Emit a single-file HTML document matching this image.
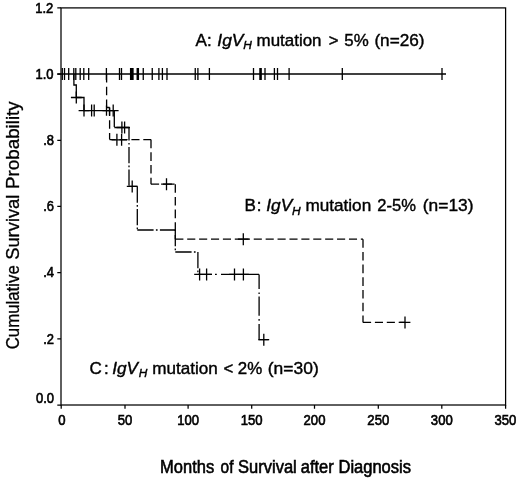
<!DOCTYPE html>
<html><head><meta charset="utf-8">
<title>Survival</title>
<style>
html,body{margin:0;padding:0;background:#fff;}
svg{display:block;}
text{font-family:"Liberation Sans",Arial,Helvetica,sans-serif;fill:#000;stroke:#000;stroke-width:0.4;}
.d text{stroke-width:0.65;}
.t text{stroke-width:0.6;}
.ty text{stroke-width:0.3;}
.ln{stroke:#000;stroke-width:1.3;fill:none;stroke-linecap:butt;}
.ax{stroke:#000;stroke-width:1.25;fill:none;}
</style></head><body>
<svg width="520" height="480" viewBox="0 0 520 480">
<rect width="520" height="480" fill="#fff"/>
<rect class="ax" x="61.0" y="7.9" width="444.6" height="397.1"/>
<path class="ax" d="M57.3 7.90H61.0M57.3 74.08H61.0M57.3 140.27H61.0M57.3 206.45H61.0M57.3 272.63H61.0M57.3 338.82H61.0M57.3 405.00H61.0M61.2 405.0V408.7M125.0 405.0V408.7M188.1 405.0V408.7M251.7 405.0V408.7M314.5 405.0V408.7M378.3 405.0V408.7M441.8 405.0V408.7M505.6 405.0V408.7"/>
<g class="d">
<text transform="translate(35.2 12.8) scale(0.8677 1)" font-size="15">1.2</text>
<text transform="translate(35.5 78.5) scale(0.8677 1)" font-size="15">1.0</text>
<text transform="translate(43.2 145.0) scale(0.8629 1)" font-size="15">.8</text>
<text transform="translate(43.2 211.1) scale(0.8629 1)" font-size="15">.6</text>
<text transform="translate(43.2 277.4) scale(0.8629 1)" font-size="15">.4</text>
<text transform="translate(43.2 343.9) scale(0.8629 1)" font-size="15">.2</text>
<text transform="translate(35.9 402.9) scale(0.8677 1)" font-size="15">0.0</text>
<text transform="translate(58.25 425.2) scale(0.8749 1)" font-size="15">0</text>
<text transform="translate(117.7 425.2) scale(0.8749 1)" font-size="15">50</text>
<text transform="translate(177.15 425.2) scale(0.8749 1)" font-size="15">100</text>
<text transform="translate(240.75 425.2) scale(0.8749 1)" font-size="15">150</text>
<text transform="translate(303.55 425.2) scale(0.8749 1)" font-size="15">200</text>
<text transform="translate(367.35 425.2) scale(0.8749 1)" font-size="15">250</text>
<text transform="translate(430.85 425.2) scale(0.8749 1)" font-size="15">300</text>
<text transform="translate(494.45 425.2) scale(0.8749 1)" font-size="15">350</text>
</g>
<g class="t">
<text transform="translate(160.1 472.5) scale(0.9165 1)" font-size="18">Months</text>
<text transform="translate(220.6 472.5) scale(0.8591 1)" font-size="18">of</text>
<text transform="translate(238.1 472.5) scale(0.9167 1)" font-size="18">Survival</text>
<text transform="translate(300.8 472.5) scale(0.9159 1)" font-size="18">after</text>
<text transform="translate(338.5 472.5) scale(0.9172 1)" font-size="18">Diagnosis</text>
</g>
<g class="ty">
<text transform="translate(19.0 349.3) rotate(-90) scale(0.934 1)" font-size="18">Cumulative</text>
<text transform="translate(19.0 259.8) rotate(-90) scale(1.019 1)" font-size="18">Survival</text>
<text transform="translate(19.0 188.9) rotate(-90) scale(1.042 1)" font-size="18">Probability</text>
</g>
<text transform="translate(195.4 45.95) scale(1.0233 1)" font-size="16.7">A</text>
<text transform="translate(207.0 45.95) scale(1.0128 1)" font-size="16.7">:</text>
<text transform="translate(217.3 45.95) scale(1.0454 1)" font-size="16.7" font-style="italic">IgV</text>
<text transform="translate(243.2 49.15) scale(1.0346 1)" font-size="11.5" font-style="italic">H</text>
<text transform="translate(256.6 45.95) scale(1.0138 1)" font-size="16.7">mutation</text>
<text transform="translate(328.8 45.95) scale(1.0000 1)" font-size="16.7">&gt;</text>
<text transform="translate(344.3 45.95) scale(1.0114 1)" font-size="16.7">5%</text>
<text transform="translate(374.4 45.95) scale(1.0307 1)" font-size="16.7">(n=26)</text>
<text transform="translate(244.4 211.45) scale(1.0233 1)" font-size="16.7">B</text>
<text transform="translate(256.8 211.45) scale(1.0128 1)" font-size="16.7">:</text>
<text transform="translate(266.3 211.45) scale(1.0374 1)" font-size="16.7" font-style="italic">IgV</text>
<text transform="translate(292.0 214.65) scale(1.0346 1)" font-size="11.5" font-style="italic">H</text>
<text transform="translate(305.4 211.45) scale(1.0279 1)" font-size="16.7">mutation</text>
<text transform="translate(377.2 211.45) scale(0.9931 1)" font-size="16.7">2-5%</text>
<text transform="translate(422.8 211.45) scale(1.0410 1)" font-size="16.7">(n=13)</text>
<text transform="translate(89.4 373.5) scale(1.0197 1)" font-size="16.7">C</text>
<text transform="translate(104.1 373.5) scale(1.0128 1)" font-size="16.7">:</text>
<text transform="translate(112.2 373.5) scale(1.0294 1)" font-size="16.7" font-style="italic">IgV</text>
<text transform="translate(138.8 376.7) scale(1.0346 1)" font-size="11.5" font-style="italic">H</text>
<text transform="translate(152.2 373.5) scale(1.0247 1)" font-size="16.7">mutation</text>
<text transform="translate(223.4 373.5) scale(1.0000 1)" font-size="16.7">&lt;</text>
<text transform="translate(237.8 373.5) scale(1.0114 1)" font-size="16.7">2%</text>
<text transform="translate(267.8 373.5) scale(1.0451 1)" font-size="16.7">(n=30)</text>
<path class="ln" style="stroke-width:1.5" d="M57.3 73.95H446"/>
<path class="ln" d="M62.3 67.9V79.9M64.5 67.9V79.9M68.7 67.9V79.9M73.8 67.9V79.9M75.8 67.9V79.9M80.2 67.9V79.9M83.8 67.9V79.9M88.7 67.9V79.9M106.4 67.9V79.9M119.5 67.9V79.9M121.5 67.9V79.9M130.6 67.9V79.9M131.8 67.9V79.9M133.0 67.9V79.9M137.2 67.9V79.9M138.4 67.9V79.9M143.25 67.9V79.9M152.25 67.9V79.9M158.9 67.9V79.9M162.4 67.9V79.9M167 67.9V79.9M195.25 67.9V79.9M197.9 67.9V79.9M209.4 67.9V79.9M253.5 67.9V79.9M259.9 67.9V79.9M261.2 67.9V79.9M265 67.9V79.9M274.4 67.9V79.9M277.5 67.9V79.9M289.1 67.9V79.9M342.3 67.9V79.9M442 67.9V79.9"/>
<path class="ln" d="M73.9 74V85H76.3V97.5H84V110.6H114.3"/>
<path class="ln" stroke-dasharray="16.3 2.3 1.7 2.3" d="M114.3 110.6L114.3 127.5M137.3 186.4L137.3 230.0M175.3 230.0L175.3 252.0M197.9 252.0L197.9 274.4"/>
<path class="ln" stroke-dasharray="16.3 2.3 1.7 2.3" d="M114.3 127.5L129.0 127.5M129.0 186.4L137.3 186.4M137.3 230.0L175.3 230.0M175.3 252.0L197.9 252.0"/>
<path class="ln" stroke-dasharray="16.3 2.3 1.7 2.3" stroke-dashoffset="3.2" d="M129.0 127.5L129.0 186.4"/>
<path class="ln" stroke-dasharray="13.9 3.2 1.8 4.2 99 9" d="M197.9 274.4H259.1"/>
<path class="ln" stroke-dasharray="14.6 3.4 1.6 2.5 19.2 3.4 1.6 3.4 99 9" d="M259.1 274.4V339.7H268.6"/>
<path class="ln" d="M76.3 91.5V103.5M70.9 97.5H81.7M84 104.6V116.6M78.6 110.6H89.4M91.6 104.6V116.6M94.2 104.6V116.6M106.5 105.4V115.8M102.5 110.6H110.5M109.5 107.5V115.5M113.2 104.6V116.6M107.8 110.6H118.6M121.9 121.5V133.5M116.5 127.5H127.3M124.6 121.5V133.5M119.2 127.5H130.0M132.2 180.4V192.4M126.8 186.4H137.6M199.6 268.4V280.4M194.2 274.4H205.0M206.6 268.4V280.4M201.2 274.4H212.0M234.5 268.4V280.4M229.1 274.4H239.9M243.4 268.4V280.4M238.0 274.4H248.8M263.8 333.7V345.7M258.4 339.7H269.2"/>
<path class="ln" stroke-dasharray="8.6 4.1" d="M106.6 74L106.6 107.5M109.6 107.5L109.6 139.6M151 139.6L151 184.2M175.3 184.2L175.3 239.2M363 239.2L363 322.4"/>
<path class="ln" stroke-dasharray="8.1 3.8" d="M106.6 107.5L109.6 107.5M151 184.2L166.5 184.2M166.5 184.2L175.3 184.2M175.3 239.2L243.3 239.2M363 322.4L405 322.4"/>
<path class="ln" stroke-dasharray="8.1 3.8" stroke-dashoffset="2.0" d="M109.6 139.6L151 139.6"/>
<path class="ln" stroke-dasharray="8.1 3.8" stroke-dashoffset="1.45" d="M243.3 239.2L363 239.2"/>
<path class="ln" d="M116.9 133.8V145.8M111.5 139.8H122.3M121.6 133.8V145.8M116.2 139.8H127.0M166.5 178.2V190.2M161.1 184.2H171.9M243.3 233.2V245.2M237.9 239.2H248.7M405 316.4V328.4M399.6 322.4H410.4"/>
</svg>
</body></html>
